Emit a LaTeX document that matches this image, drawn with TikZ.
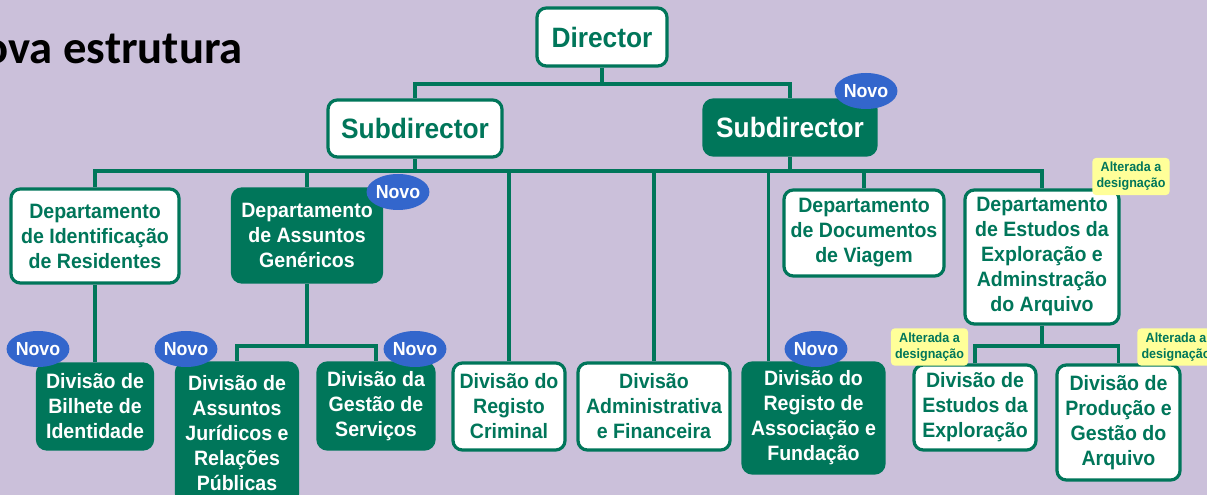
\documentclass[tikz,border=0pt]{standalone}
\usepackage{fontspec}
\setmainfont{Liberation Sans}[FakeStretch=0.94]
\newfontfamily\titlefont{Carlito}
\usepackage{tikz}
\usetikzlibrary{shapes.geometric}
\definecolor{bglilac}{HTML}{CBC0DA}
\definecolor{orggreen}{HTML}{00765A}
\definecolor{novoblue}{HTML}{3366CC}
\definecolor{notayellow}{HTML}{FFFF99}

\begin{document}
\begin{tikzpicture}[x=0.75pt,y=-0.75pt,
    unitw/.style={draw=orggreen, line width=2.4pt, fill=white, text=orggreen,
        rounded corners=7pt, align=center, inner sep=0pt,
        font=\bfseries\fontsize{15.6}{18.75}\selectfont},
    unitg/.style={unitw, fill=orggreen, text=white},
    bigunit/.style={font=\bfseries\fontsize{21}{24}\selectfont},
    sz/.style 2 args={minimum width=#1*0.75pt, minimum height=#2*0.75pt},
    link/.style={draw=orggreen, line width=2.4pt},
    novo/.style={ellipse, fill=novoblue, text=white, inner sep=0pt,
        minimum width=46.5pt, minimum height=27pt,
        font=\bfseries\fontsize{14.2}{16}\selectfont},
    alterada/.style={fill=notayellow, text=orggreen, rounded corners=3pt,
        inner sep=0pt, minimum width=58pt, minimum height=28pt, align=center,
        font=\bfseries\fontsize{10}{12}\selectfont}]
            \useasboundingbox (0,0) rectangle (1207,495);
            \fill[bglilac] (0,0) rectangle (1207,495);
            \node[anchor=base east, inner sep=0pt, font=\titlefont\bfseries\fontsize{35}{40}\selectfont] (title) at (243,64) {ova estrutura};
            % top levels
            \node[unitw, bigunit, sz={130}{58}] (dir) at (602,37) {Director};
            \node[unitw, bigunit, sz={174}{57}] (subA) at (415,128.5) {Subdirector};
            \node[unitg, bigunit, sz={172}{55}] (subB) at (790,127.5) {Subdirector};
            % departments
            \node[unitw, sz={168}{94}] (depId) at (95,236) {Departamento\\de Identificação\\de Residentes};
            \node[unitg, sz={149}{93}] (depAG) at (307,235.5) {Departamento\\de Assuntos\\Genéricos};
            \node[unitw, sz={160}{86}] (depDoc) at (864,233) {Departamento\\de Documentos\\de Viagem};
            \node[unitw, sz={154}{134}] (depEst) at (1042,257) {Departamento\\de Estudos da\\Exploração e\\Adminstração\\do Arquivo};
            % divisions
            \node[unitg, sz={115}{85}] (divBil) at (95,406.5) {Divisão de\\Bilhete de\\Identidade};
            \node[unitg, sz={121}{140}] (divJur) at (237,433) {Divisão de\\Assuntos\\Jurídicos e\\Relações\\Públicas};
            \node[unitg, sz={116}{86}] (divGes) at (376,406) {Divisão da\\Gestão de\\Serviços};
            \node[unitw, sz={112}{87}] (divCrim) at (509,406.5) {Divisão do\\Registo\\Criminal};
            \node[unitw, sz={152}{87}] (divAdm) at (654,406.5) {Divisão\\Administrativa\\e Financeira};
            \node[unitg, sz={141}{110}] (divAss) at (813.5,418) {Divisão do\\Registo de\\Associação e\\Fundação};
            \node[unitw, sz={122}{85}] (divEst) at (975,407.5) {Divisão de\\Estudos da\\Exploração};
            \node[unitw, sz={123}{115}] (divPro) at (1118.5,422.5) {Divisão de\\Produção e\\Gestão do\\Arquivo};
            % connectors
            \coordinate (hubDir) at (602,84);
            \coordinate (busA) at (415,171);
            \coordinate (busB) at (790,171);
            \coordinate (hubAG) at (307,346);
            \coordinate (hubEst) at (1042,346);
            \draw[link] (dir) -- (hubDir);
            \draw[link] (subA) |- (hubDir) -| (subB);
            \draw[link] (subA) -- (busA);
            \draw[link] (subB) -- (busB);
            \draw[link] (depId) |- (busA) -- (busB) -| (depEst);
            \foreach \n in {depAG,divCrim,divAdm,depDoc}{
                \draw[link] (\n) -- (\n |- busA);
            }
            \draw[link] ([xshift=-34pt]divAss.north) -- ([xshift=-34pt]divAss.north |- busA);
            \draw[link] (depId) -- (divBil);
            \draw[link] (depAG) -- (hubAG);
            \draw[link] (divJur) |- (hubAG) -| (divGes);
            \draw[link] (depEst) -- (hubEst);
            \draw[link] (divEst) |- (hubEst) -| (divPro);
            % badges
            \foreach \nx/\ny [count=\i] in {866/91,398/192,38/349,186/349,415/349,816/349}{
                \node[novo] (novo\i) at (\nx,\ny) {Novo};
            }
            \foreach \ax/\ay [count=\i] in {1131/176.5,929.5/347,1176/347}{
                \node[alterada] (alt\i) at (\ax,\ay) {Alterada a\\designação};
            }
\end{tikzpicture}
\end{document}
